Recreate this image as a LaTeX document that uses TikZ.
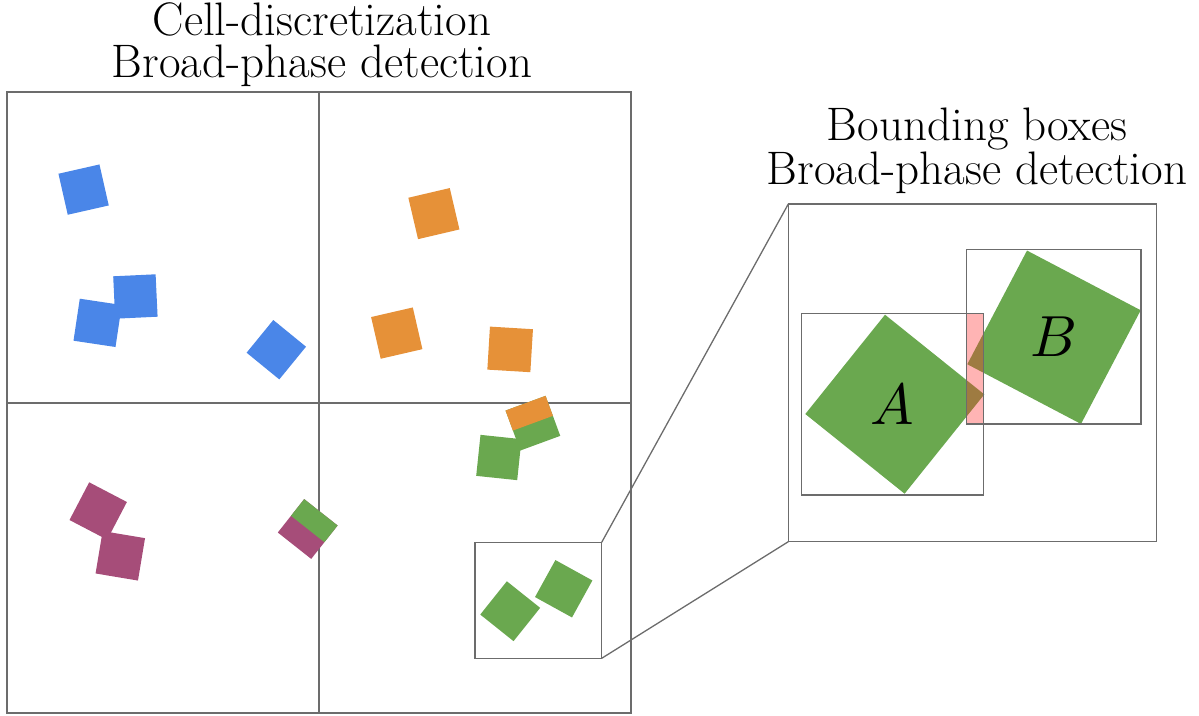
\documentclass[tikz,border=0pt]{standalone}
\usepackage{graphicx}
\usetikzlibrary{calc}

\definecolor{tileblue}{RGB}{74,134,232}
\definecolor{tileorange}{RGB}{230,145,56}
\definecolor{tilegreen}{RGB}{106,168,79}
\definecolor{tilemagenta}{RGB}{166,77,121}
\definecolor{frame}{RGB}{108,108,108}
\definecolor{overlap}{RGB}{255,40,40}

% A square tile: centre (#1,#2), half edge vector (#3,#4), colour #5
\newcommand\drawtile[5]{%
  \fill[#5] ({(#1)+(#3)-(#4)},{(#2)+(#4)+(#3)})
         -- ({(#1)+(#3)+(#4)},{(#2)+(#4)-(#3)})
         -- ({(#1)-(#3)+(#4)},{(#2)-(#4)-(#3)})
         -- ({(#1)-(#3)-(#4)},{(#2)-(#4)+(#3)}) -- cycle;}
% A tile shared by two cells: half #5 on one side, #6 on the other
\newcommand\drawsplittile[6]{%
  \drawtile{#1}{#2}{#3}{#4}{#6}%
  \fill[#5] ({(#1)-(#3)+(#4)},{(#2)-(#4)-(#3)})
         -- ({(#1)+(#3)+(#4)},{(#2)+(#4)-(#3)})
         -- ({(#1)+(#3)},{(#2)+(#4)})
         -- ({(#1)-(#3)},{(#2)-(#4)}) -- cycle;}
% Large italic object label
\newcommand\objlabel[1]{\scalebox{5.8}{$#1$}}

\tikzset{
  frameline/.style={draw=frame, line width=1.3pt},
  framebox/.style={frameline, rectangle, inner sep=0pt, outer sep=0pt},
  title/.style={align=center, inner sep=0pt, anchor=north,
    font=\fontsize{47}{42}\selectfont},
  tag/.style={inner sep=0pt},
}

\begin{document}
\begin{tikzpicture}[x=1pt, y=-1pt]
\useasboundingbox (0,0) rectangle (1199,715);

% ---- cell grid -------------------------------------------------------
\node[title] (ltitle) at (322,2.5) {Cell-discretization\\Broad-phase detection};
\draw[frameline] (7,92) rectangle (631,713);
\draw[frameline] (319,92) -- (319,713);
\draw[frameline] (7,403) -- (631,403);

% blue cell
\drawtile{83.6}{189.6}{20.5}{-4.65}{tileblue}
\drawtile{97.65}{322.85}{21}{3.15}{tileblue}
\drawtile{135.4}{296.5}{21.2}{-1}{tileblue}
\drawtile{276.3}{349.7}{16.35}{13.35}{tileblue}

% orange cell
\drawtile{433.9}{213.6}{20.7}{-4.85}{tileorange}
\drawtile{396.75}{333.1}{20.85}{-4.8}{tileorange}
\drawtile{510.15}{349.4}{21.5}{1.3}{tileorange}

% magenta cell
\drawtile{98.2}{511}{18.85}{9.85}{tilemagenta}
\drawtile{120.3}{555.8}{21.2}{3.55}{tilemagenta}
\drawsplittile{307.7}{529}{16.7}{13.2}{tilegreen}{tilemagenta}

% green cell
\drawtile{498.85}{457.5}{20.5}{2.15}{tilegreen}
\drawsplittile{532.9}{423.2}{20}{-7.35}{tileorange}{tilegreen}
\drawtile{510.2}{611.2}{16.65}{13.3}{tilegreen}
\drawtile{563.7}{588.75}{18.5}{10.2}{tilegreen}
\node[framebox, minimum width=126.7pt, minimum height=116pt] (zoombox) at (538.35,600.3) {};

% ---- magnified view with bounding boxes ---------------------------------
\node[title] (rtitle) at (977,108) {Bounding boxes\\Broad-phase detection};
\node[framebox, minimum width=368.4pt, minimum height=337.7pt] (bigbox) at (972.5,372.85) {};

\drawtile{894.8}{404.2}{49.65}{39.85}{tilegreen}
\drawtile{1054}{337.25}{56.85}{29.85}{tilegreen}

% bounding boxes: overlap shaded first, outlines on top
\node[framebox, draw=none, minimum width=181.6pt, minimum height=181.3pt] (boxA) at (892.5,404.35) {};
\node[framebox, draw=none, minimum width=174.3pt, minimum height=174.3pt] (boxB) at (1053.85,336.85) {};
\fill[overlap, opacity=0.35] (boxB.west |- boxA.north) rectangle (boxA.east |- boxB.south);
\draw[frameline] (boxA.north west) rectangle (boxA.south east);
\draw[frameline] (boxB.north west) rectangle (boxB.south east);

\node[tag] (labA) at (892.5,405) {\objlabel{A}};
\node[tag] (labB) at (1054,336.7) {\objlabel{B}};

% ---- zoom connectors -------------------------------------------------
\draw[frameline] (zoombox.north east) -- (bigbox.north west);
\draw[frameline] (zoombox.south east) -- (bigbox.south west);
\end{tikzpicture}
\end{document}
